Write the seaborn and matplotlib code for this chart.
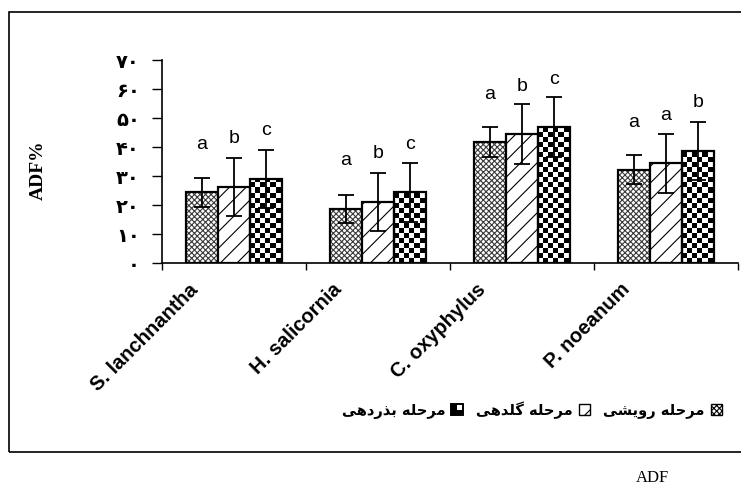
# نمودار ADF در سه مرحله رشد برای چهار گونه
import numpy as np
import pandas as pd
import matplotlib
matplotlib.use("Agg")
import matplotlib.pyplot as plt
import seaborn as sns
from matplotlib.patches import Patch, Rectangle
from matplotlib.legend_handler import HandlerBase
from matplotlib import transforms
import matplotlib.colors as mcolors

# داده‌ها
species = ["S. lanchnantha", "H. salicornia", "C. oxyphylus", "P. noeanum"]
stages = ["مرحله رویشی", "مرحله گلدهی", "مرحله بذردهی"]
adf_vegetative = [24.4, 18.7, 41.7, 32.1]
adf_flowering = [26.3, 21.1, 44.5, 34.4]
adf_seeding = [29.1, 24.4, 46.9, 38.7]
err_vegetative = [5.0, 4.8, 5.1, 5.0]
err_flowering = [10.0, 10.1, 10.3, 10.1]
err_seeding = [10.0, 10.1, 10.3, 10.0]
letters_vegetative = ["a", "a", "a", "a"]
letters_flowering = ["b", "b", "b", "a"]
letters_seeding = ["c", "c", "c", "b"]
y_ticks = [0, 10, 20, 30, 40, 50, 60, 70]
y_ticklabels = ["۰", "۱۰", "۲۰", "۳۰", "۴۰", "۵۰", "۶۰", "۷۰"]
y_label = "ADF%"
caption = "ADF"

# شکل‌دهی ساده حروف فارسی (matplotlib خودش این کار را نمی‌کند)
FORMS = {
    "ب": ("\uFE8F", "\uFE90", "\uFE91", "\uFE92"),
    "ح": ("\uFEA1", "\uFEA2", "\uFEA3", "\uFEA4"),
    "د": ("\uFEA9", "\uFEAA", None, None),
    "ذ": ("\uFEAB", "\uFEAC", None, None),
    "ر": ("\uFEAD", "\uFEAE", None, None),
    "ش": ("\uFEB5", "\uFEB6", "\uFEB7", "\uFEB8"),
    "ل": ("\uFEDD", "\uFEDE", "\uFEDF", "\uFEE0"),
    "م": ("\uFEE1", "\uFEE2", "\uFEE3", "\uFEE4"),
    "ه": ("\uFEE9", "\uFEEA", "\uFEEB", "\uFEEC"),
    "و": ("\uFEED", "\uFEEE", None, None),
    "\u06CC": ("\uFBFC", "\uFBFD", "\uFBFE", "\uFBFF"),
    "\u064A": ("\uFBFC", "\uFBFD", "\uFBFE", "\uFBFF"),
    "گ": ("\uFB92", "\uFB93", "\uFB94", "\uFB95"),
}


def shape_word(word):
    out = []
    for i, ch in enumerate(word):
        if ch not in FORMS:
            out.append(ch)
            continue
        prev = word[i - 1] if i > 0 else None
        nxt = word[i + 1] if i < len(word) - 1 else None
        join_prev = prev in FORMS and FORMS[prev][2] is not None
        join_next = nxt in FORMS and FORMS[ch][2] is not None
        iso, fin, ini, med = FORMS[ch]
        if join_prev and join_next:
            out.append(med)
        elif join_prev:
            out.append(fin)
        elif join_next:
            out.append(ini)
        else:
            out.append(iso)
    return "".join(out[::-1])


def shape(text):
    return " ".join(shape_word(w) for w in text.split(" ")[::-1])


df = pd.DataFrame({
    "species": species * 3,
    "stage": [s for s in stages for _ in species],
    "adf": adf_vegetative + adf_flowering + adf_seeding,
})
errors = [err_vegetative, err_flowering, err_seeding]
letters = [letters_vegetative, letters_flowering, letters_seeding]
values = [adf_vegetative, adf_flowering, adf_seeding]

plt.rcParams["hatch.linewidth"] = 0.8

fig, ax = plt.subplots(figsize=(7.41, 4.86), dpi=100)
ax.set_position([0.2186, 0.4588, 0.7774, 0.4177])

sns.barplot(data=df, x="species", y="adf", hue="stage", hue_order=stages,
            palette=["white"] * 3, edgecolor="black", linewidth=1.6,
            width=0.67, errorbar=None, legend=False, ax=ax)


def set_hatch_color(patch, color):
    if hasattr(patch, "set_hatchcolor"):
        patch.set_hatchcolor(color)
    else:
        patch._hatch_color = mcolors.to_rgba(color)


# الگوی بافت میله‌ها
for bar in ax.containers[0]:
    bar.set_hatch("xxxxxx")
    set_hatch_color(bar, "#3a3a3a")
for bar in ax.containers[1]:
    bar.set_hatch("//")
    set_hatch_color(bar, "black")

# شطرنجی برای مرحله بذردهی
cx = 5.0 / 144.0
cy = 5.0 / 2.9
for bar in ax.containers[2]:
    x0, w, h = bar.get_x(), bar.get_width(), bar.get_height()
    nx = int(np.ceil(w / cx))
    ny = int(np.ceil(h / cy))
    ii, jj = np.indices((ny, nx))
    board = ((ii + jj) % 2).astype(float)
    bar.set_facecolor("none")
    im = ax.imshow(board, cmap="gray_r", vmin=0, vmax=1, origin="lower",
                   extent=(x0, x0 + nx * cx, 0, ny * cy), interpolation="nearest",
                   aspect="auto", zorder=bar.get_zorder() - 0.01)
    im.set_clip_path(bar)

# خطای استاندارد و حروف معنی‌داری
for k, cont in enumerate(ax.containers[:3]):
    xs = [b.get_x() + b.get_width() / 2 for b in cont]
    ax.errorbar(xs, values[k], yerr=errors[k], fmt="none", ecolor="black",
                elinewidth=1.3, capsize=6, capthick=1.3, zorder=6)
    for x, v, t in zip(xs, values[k], letters[k]):
        ax.text(x, v + 16.5, t, ha="center", va="center", fontsize=14,
                family="Liberation Sans", zorder=7)

ax.set_xlim(-0.5, 3.5)
ax.set_ylim(0, 70)
ax.set_yticks(y_ticks)
ax.set_yticklabels(y_ticklabels, fontsize=14, fontweight="bold",
                   family=["DejaVu Sans"])
ax.set_xticks([-0.5, 0.5, 1.5, 2.5, 3.5])
ax.set_xticklabels([])
ax.tick_params(axis="y", length=7, width=1, pad=9, direction="out")
ax.tick_params(axis="x", length=5, width=1, direction="out")
ax.set_xlabel("")
ax.set_ylabel("")
for side in ["top", "right"]:
    ax.spines[side].set_visible(False)
for side in ["left", "bottom"]:
    ax.spines[side].set_linewidth(1.2)

# برچسب‌های گونه‌ها با چرخش ۴۵ درجه
offset = transforms.ScaledTranslation(-28 / 72, -17 / 72, fig.dpi_scale_trans)
for i, name in enumerate(species):
    ax.text(i, 0, name, transform=ax.get_xaxis_transform() + offset,
            rotation=45, rotation_mode="anchor", ha="right", va="center",
            fontsize=14.5, fontweight="bold", family="Liberation Sans")

fig.text(38 / 741, 1 - 170 / 486, y_label, rotation=90, ha="center",
         va="center", fontsize=14, fontweight="bold", family="Liberation Serif")


class CheckerHandler(HandlerBase):
    def create_artists(self, legend, orig_handle, xdescent, ydescent,
                       width, height, fontsize, trans):
        s = min(width, height)
        x0 = -xdescent + (width - s) / 2
        y0 = -ydescent + (height - s) / 2
        h = s / 2
        return [
            Rectangle((x0, y0), s, s, fc="white", ec="black", lw=1.2, transform=trans),
            Rectangle((x0, y0), h, h, fc="black", ec="none", transform=trans),
            Rectangle((x0, y0 + h), h, h, fc="black", ec="none", transform=trans),
            Rectangle((x0 + h, y0), h, h, fc="black", ec="none", transform=trans),
            Rectangle((x0, y0), s, s, fc="none", ec="black", lw=1.2, transform=trans),
        ]


h_veg = Patch(facecolor="white", edgecolor="black", hatch="xxxxxx")
h_flo = Patch(facecolor="white", edgecolor="black", hatch="//")
h_seed = Patch(facecolor="white", edgecolor="black")
fig.legend([h_seed, h_flo, h_veg], [shape(stages[2]), shape(stages[1]), shape(stages[0])],
           handler_map={h_seed: CheckerHandler()},
           loc="center", bbox_to_anchor=(532 / 741, 1 - 410 / 486), ncol=3,
           frameon=False, markerfirst=False, handlelength=0.8, handleheight=0.8,
           handletextpad=0.4, columnspacing=0.9,
           prop={"family": ["DejaVu Sans"], "weight": "bold", "size": 10.5})

# قاب دور نمودار
fig.patches.append(Rectangle((9 / 741, 1 - 452 / 486), 1.2, (452 - 12) / 486,
                             transform=fig.transFigure, fill=False,
                             edgecolor="black", linewidth=1.2))
fig.text(652 / 741, 1 - 478 / 486, caption, ha="center", va="center",
         fontsize=12, family="Liberation Serif")

fig.savefig("out.png", dpi=100)
